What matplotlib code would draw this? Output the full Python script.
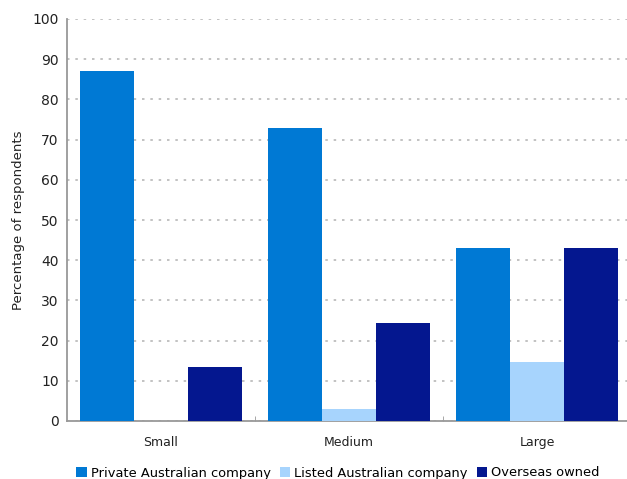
#bar chart of company ownership by business size
import numpy as np
import matplotlib.pyplot as plt

#data
sizes = ['Small', 'Medium', 'Large']
private_au = [87, 73, 43]
listed_au = [0, 2.9, 14.7]
overseas = [13.4, 24.4, 43]
series_names = ['Private Australian company', 'Listed Australian company', 'Overseas owned']
colours = ['#0079d4', '#a7d4fd', '#04178f']

plt.rcParams['font.family'] = ['DejaVu Sans']

fig = plt.figure(figsize=(6.27, 4.79), dpi=100)
ax = fig.add_axes([67/627, 58/479, 564/627, 402/479])

x = np.arange(len(sizes))
w = 0.287
handles = []
for k, vals in enumerate([private_au, listed_au, overseas]):
    b = ax.bar(x + (k - 1)*w, vals, width=w, color=colours[k], label=series_names[k], zorder=3)
    handles.append(b)

ax.set_xlim(-0.5, 2.5)
ax.set_ylim(0, 100)
ax.set_yticks(np.arange(0, 101, 10))
ax.yaxis.grid(True, linestyle=(0, (1.5, 3.5)), color='#b8b8b8', linewidth=1.2, zorder=0)
ax.set_axisbelow(True)

#category labels sit between the boundary ticks
ax.set_xticks(x)
ax.set_xticklabels(sizes)
ax.set_xticks([0.5, 1.5], minor=True)
ax.tick_params(axis='x', which='major', length=0, pad=11, labelsize=9, colors='#222222')
ax.tick_params(axis='x', which='minor', length=3.5, direction='in', color='#999999')
ax.tick_params(axis='y', length=0, pad=6, labelsize=10, colors='#222222')

for s in ['top', 'right']:
    ax.spines[s].set_visible(False)
for s in ['left', 'bottom']:
    ax.spines[s].set_color('#999999')
    ax.spines[s].set_linewidth(1.3)

ax.set_ylabel('Percentage of respondents', fontsize=9.5, color='#222222', labelpad=5)

fig.legend(handles=handles, loc='center', bbox_to_anchor=(338/627, 6/479), ncol=3,
           frameon=False, fontsize=9.4, handlelength=0.8, handleheight=0.8,
           handletextpad=0.3, columnspacing=0.7, borderpad=0)

plt.savefig('out.png', dpi=100)
